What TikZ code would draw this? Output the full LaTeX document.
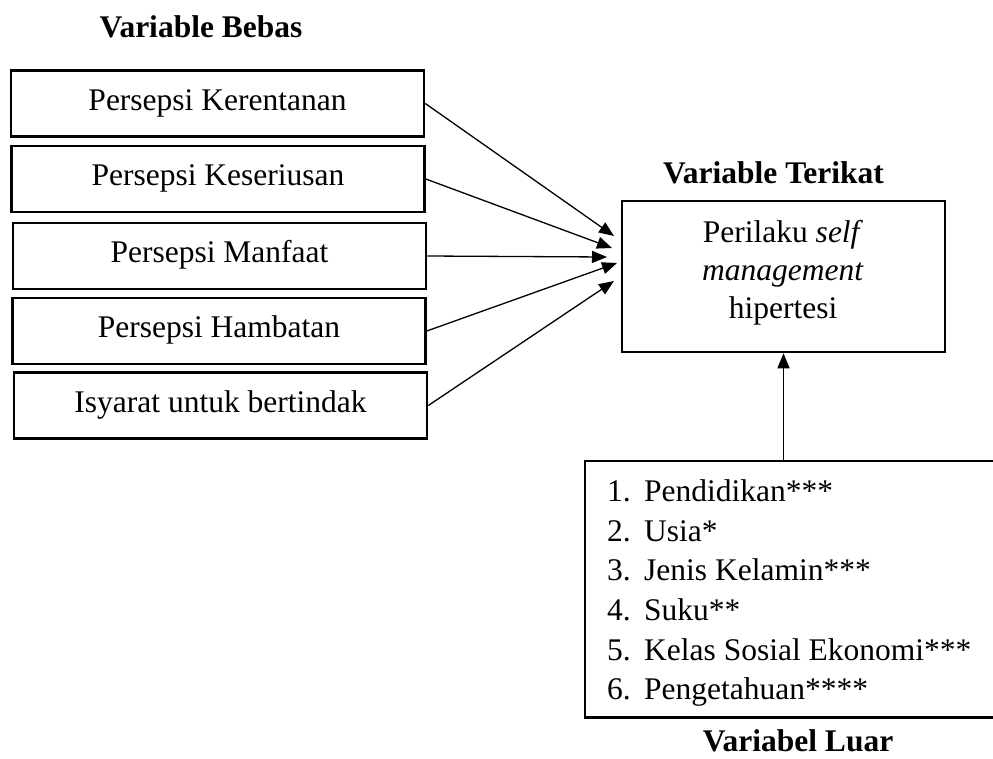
\documentclass[tikz,border=0pt]{standalone}
\usepackage{fontspec}
\setmainfont{Liberation Serif}
\usetikzlibrary{arrows.meta}
\begin{document}
\begin{tikzpicture}[x=1pt,y=-1pt,
  every node/.style={font=\fontsize{31.5}{38}\selectfont, inner sep=0pt},
  ivbox/.style={draw, line width=2.6pt, minimum width=413pt, minimum height=66pt,
    text height=21.4pt, text depth=7.9pt},
  dvbox/.style={draw, line width=2.6pt, minimum width=323pt, minimum height=151pt},
  title/.style={anchor=base, font=\fontsize{31.5}{38}\selectfont\bfseries},
  txt/.style={anchor=base},
  item/.style={anchor=base west},
  conn/.style={line width=1.3pt, -{Triangle[length=15pt,width=12pt]}},
  edge/.style={line width=2.6pt}
]
\useasboundingbox (0,0) rectangle (993,758);

% titles
\node[title] (tb) at (201,37) {Variable Bebas};
\node[title] (tt) at (773.5,183) {Variable Terikat};
\node[title, text depth=0pt] (tl) at (798,751) {Variabel Luar};

% independent variables
\node[ivbox] (b1) at (217.5,103.5) {Persepsi Kerentanan};
\node[ivbox] (b2) at (218,179) {Persepsi Keseriusan};
\node[ivbox] (b3) at (219.5,256) {Persepsi Manfaat};
\node[ivbox] (b4) at (219,331) {Persepsi Hambatan};
\node[ivbox] (b5) at (220.5,405.5) {Isyarat untuk bertindak};

% dependent variable
\node[dvbox] (dv) at (783.5,276.5) {};
\node[txt] (dv1) at (783,242) {Perilaku \textit{self}};
\node[txt] (dv2) at (783,280) {\textit{management}};
\node[txt] (dv3) at (783,318) {hipertesi};

% arrow tips
\coordinate (t1) at (614,236);
\coordinate (t2) at (612,248);
\coordinate (t3) at (607,257);
\coordinate (t4) at (617,263);
\coordinate (t5) at (614,281);

\draw[conn] (b1.east) -- (t1);
\draw[conn] (b2.east) -- (t2);
\draw[conn] (b3.east) -- (t3);
\draw[conn] (b4.east) -- (t4);
\draw[conn] (b5.east) -- (t5);

% external variables
\node[minimum width=408pt, minimum height=256pt] (luar) at (789,589) {};
\draw[edge] (luar.north east) -- (luar.north west) -- (luar.south west) -- (luar.south east);

\node[item] (i1) at (607,501.7) {\makebox[37pt][l]{1.}Pendidikan***};
\node[item] (i2) at (607,541.3) {\makebox[37pt][l]{2.}Usia*};
\node[item] (i3) at (607,580.9) {\makebox[37pt][l]{3.}Jenis Kelamin***};
\node[item] (i4) at (607,620.5) {\makebox[37pt][l]{4.}Suku**};
\node[item] (i5) at (607,660.1) {\makebox[37pt][l]{5.}Kelas Sosial Ekonomi***};
\node[item] (i6) at (607,699.7) {\makebox[37pt][l]{6.}Pengetahuan****};

\draw[conn] (dv.south |- luar.north) -- (dv.south);
\end{tikzpicture}
\end{document}
